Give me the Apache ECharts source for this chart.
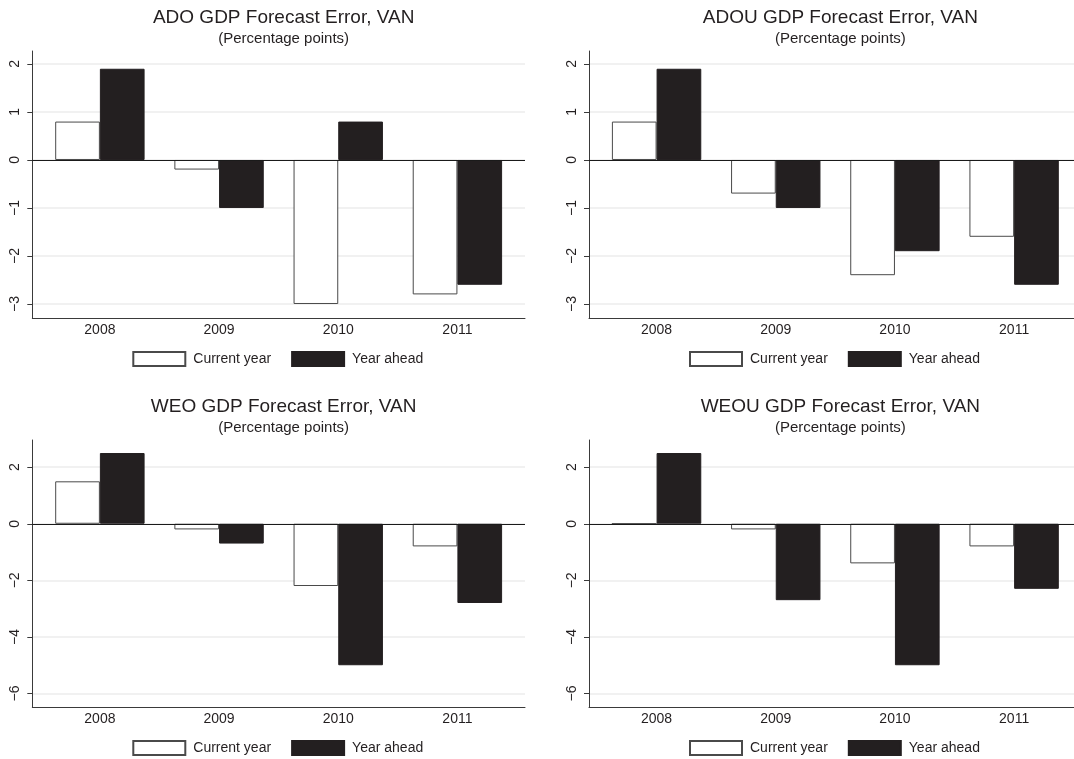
<!DOCTYPE html>
<html>
<head>
<meta charset="utf-8">
<title>GDP Forecast Error, VAN</title>
<script src="https://cdn.jsdelivr.net/npm/echarts@6/dist/echarts.min.js"></script>
<style>
  html, body { margin: 0; padding: 0; background: #ffffff; }
  #chart { width: 1074px; height: 759px; }
</style>
</head>
<body>
<div id="chart"></div>
<script>
// Categories and series values (percentage points)
const years = ['2008', '2009', '2010', '2011'];
const seriesNames = ['Current year', 'Year ahead'];

const adoCurrent  = [0.8, -0.2, -3.0, -2.8];
const adoAhead    = [1.9, -1.0,  0.8, -2.6];
const adouCurrent = [0.8, -0.7, -2.4, -1.6];
const adouAhead   = [1.9, -1.0, -1.9, -2.6];
const weoCurrent  = [1.5, -0.2, -2.2, -0.8];
const weoAhead    = [2.5, -0.7, -5.0, -2.8];
const weouCurrent = [0.0, -0.2, -1.4, -0.8];
const weouAhead   = [2.5, -2.7, -5.0, -2.3];

const panelTitles = [
  'ADO GDP Forecast Error, VAN',
  'ADOU GDP Forecast Error, VAN',
  'WEO GDP Forecast Error, VAN',
  'WEOU GDP Forecast Error, VAN'
];
const subTitle = '(Percentage points)';

// Value-axis extents of each panel row
const topRowRange = [-3.3, 2.27];
const bottomRowRange = [-6.49, 2.96];

const panels = [
  { title: panelTitles[0], current: adoCurrent,  ahead: adoAhead,  range: topRowRange,    left: 32.3, top: 51 },
  { title: panelTitles[1], current: adouCurrent, ahead: adouAhead, range: topRowRange,    left: 589,  top: 51 },
  { title: panelTitles[2], current: weoCurrent,  ahead: weoAhead,  range: bottomRowRange, left: 32.3, top: 440 },
  { title: panelTitles[3], current: weouCurrent, ahead: weouAhead, range: bottomRowRange, left: 589,  top: 440 }
];

const FONT = '"Liberation Sans", Arial, Helvetica, sans-serif';
const INK = '#231f20';
const PLOT_W = 492.7;
const PLOT_H = 267.4;
const INSET = 8;

const option = {
  animation: false,
  backgroundColor: '#ffffff',
  textStyle: { fontFamily: FONT, color: INK },
  title: [], grid: [], xAxis: [], yAxis: [], legend: [], series: []
};

const minusFmt = v => {
  if (Math.abs(v - Math.round(v)) > 1e-6) return '';
  return String(Math.round(v)).replace('-', '\u2212');
};

panels.forEach((p, i) => {
  const frame = 2 * i, inner = 2 * i + 1;
  const cx = p.left + PLOT_W / 2;

  option.title.push({
    text: p.title,
    subtext: subTitle,
    left: cx, top: p.top - 48, textAlign: 'center',
    itemGap: 4,
    textStyle: { fontFamily: FONT, fontSize: 19, fontWeight: 'normal', color: INK },
    subtextStyle: { fontFamily: FONT, fontSize: 15, color: INK }
  });

  // Frame grid: axis lines, y ticks, labels, gridlines
  option.grid.push({ left: p.left, top: p.top, width: PLOT_W, height: PLOT_H, containLabel: false });
  // Bar grid: inset category band
  option.grid.push({ left: p.left + INSET, top: p.top, width: PLOT_W - 2 * INSET, height: PLOT_H, containLabel: false });

  option.xAxis.push({
    gridIndex: frame, type: 'value', min: 0, max: 1, position: 'bottom',
    axisLine: { show: true, onZero: false, lineStyle: { color: '#3a3a3a', width: 1 } },
    axisTick: { show: false }, axisLabel: { show: false }, splitLine: { show: false }
  });
  option.xAxis.push({
    gridIndex: inner, type: 'category', data: years, position: 'bottom',
    axisLine: { show: false }, axisTick: { show: false }, splitLine: { show: false },
    axisLabel: { fontFamily: FONT, fontSize: 14, color: INK, margin: 5 }
  });

  option.yAxis.push({
    gridIndex: frame, type: 'value', min: p.range[0], max: p.range[1],
    axisLine: { show: true, lineStyle: { color: '#3a3a3a', width: 1 } },
    axisTick: { show: true, length: 5, lineStyle: { color: '#3a3a3a' } },
    axisLabel: {
      fontFamily: FONT, fontSize: 14, color: INK, rotate: 90, margin: 10,
      showMinLabel: false, showMaxLabel: false, formatter: minusFmt
    },
    splitLine: { show: true, showMinLine: false, showMaxLine: false, lineStyle: { color: '#ececec', width: 1.5 } }
  });
  option.yAxis.push({
    gridIndex: inner, type: 'value', min: p.range[0], max: p.range[1],
    axisLine: { show: false }, axisTick: { show: false }, axisLabel: { show: false }, splitLine: { show: false }
  });

  option.legend.push({
    left: p.left + 100, top: p.top + 300, padding: 0,
    icon: 'rect', itemWidth: 52, itemHeight: 14, itemGap: 20,
    data: seriesNames,
    selectedMode: false,
    textStyle: { fontFamily: FONT, fontSize: 14, color: INK, padding: [0, 0, 0, 3] }
  });

  option.series.push({
    name: seriesNames[0], type: 'bar', xAxisIndex: inner, yAxisIndex: inner,
    data: p.current, barGap: '0%', barCategoryGap: '25%',
    itemStyle: { color: '#ffffff', borderColor: '#4a4a4a', borderWidth: 1 }
  });
  option.series.push({
    name: seriesNames[1], type: 'bar', xAxisIndex: inner, yAxisIndex: inner,
    data: p.ahead, barGap: '0%', barCategoryGap: '25%',
    itemStyle: { color: INK, borderColor: INK, borderWidth: 1 }
  });
  // Zero reference line across the full frame
  option.series.push({
    type: 'line', xAxisIndex: frame, yAxisIndex: frame, data: [], silent: true,
    markLine: {
      silent: true, symbol: 'none', label: { show: false }, z: 10,
      lineStyle: { color: '#1a1a1a', width: 1.2, type: 'solid' },
      data: [{ yAxis: 0 }]
    }
  });
});

const chart = echarts.init(document.getElementById('chart'), null, { renderer: 'canvas' });
chart.setOption(option);
</script>
</body>
</html>
